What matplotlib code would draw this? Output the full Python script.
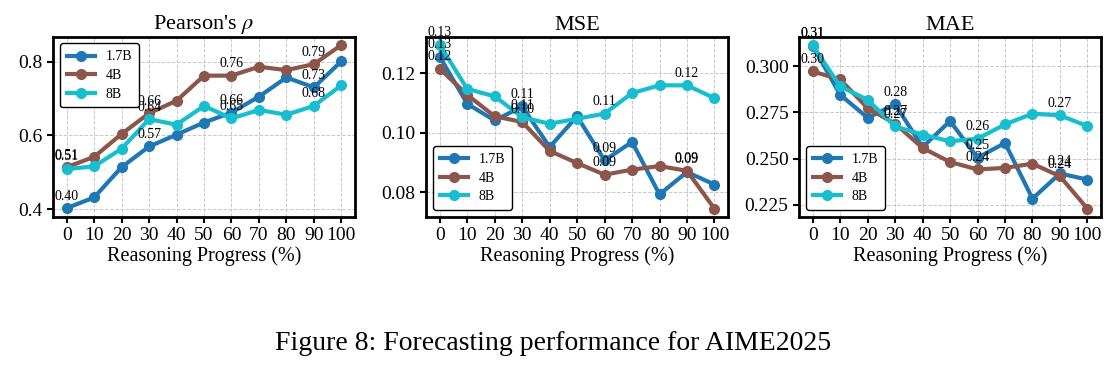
import matplotlib
matplotlib.use("Agg")
import matplotlib.pyplot as plt
import numpy as np

progress = [0, 10, 20, 30, 40, 50, 60, 70, 80, 90, 100]
labels = ['1.7B', '4B', '8B']
colors = ['tab:blue', 'tab:brown', 'tab:cyan']

pearson_17b = [0.403, 0.432, 0.514, 0.570, 0.602, 0.635, 0.662, 0.705, 0.757, 0.730, 0.801]
pearson_4b = [0.514, 0.542, 0.604, 0.660, 0.694, 0.762, 0.762, 0.786, 0.777, 0.793, 0.845]
pearson_8b = [0.509, 0.516, 0.564, 0.644, 0.629, 0.680, 0.646, 0.669, 0.656, 0.680, 0.736]

mse_17b = [0.1255, 0.1097, 0.1041, 0.1088, 0.0952, 0.1055, 0.0907, 0.0969, 0.0793, 0.0868, 0.0826]
mse_4b = [0.1215, 0.1127, 0.1055, 0.1036, 0.0939, 0.0898, 0.0859, 0.0876, 0.0888, 0.0872, 0.0745]
mse_8b = [0.1295, 0.1147, 0.1122, 0.1052, 0.1030, 0.1047, 0.1064, 0.1133, 0.1159, 0.1159, 0.1116]

mae_17b = [0.3110, 0.2845, 0.2721, 0.2793, 0.2563, 0.2703, 0.2505, 0.2585, 0.2284, 0.2420, 0.2387]
mae_4b = [0.2971, 0.2928, 0.2773, 0.2689, 0.2558, 0.2482, 0.2442, 0.2450, 0.2473, 0.2405, 0.2230]
mae_8b = [0.3112, 0.2890, 0.2818, 0.2674, 0.2630, 0.2594, 0.2608, 0.2685, 0.2743, 0.2734, 0.2676]

plt.rcParams['font.family'] = ['Liberation Serif', 'DejaVu Serif']
plt.rcParams['mathtext.fontset'] = 'stix'

fig = plt.figure(figsize=(11.17, 3.65), dpi=100)

panels = [
    (r"Pearson's $\rho$", [pearson_17b, pearson_4b, pearson_8b], [0.4, 0.6, 0.8],
     (0.379, 0.868), 'upper left', '%.1f', 0.0474),
    ('MSE', [mse_17b, mse_4b, mse_8b], [0.08, 0.10, 0.12],
     (0.0717, 0.1323), 'lower left', '%.2f', 0.3814),
    ('MAE', [mae_17b, mae_4b, mae_8b], [0.225, 0.250, 0.275, 0.300],
     (0.2185, 0.316), 'lower left', '%.3f', 0.7153),
]

for title, series, yticks, ylim, loc, fmt, left in panels:
    ax = fig.add_axes([left, 0.4055, 0.2705, 0.4945])
    for vals, label, color in zip(series, labels, colors):
        ax.plot(progress, vals, color=color, linewidth=3, marker='o',
                markersize=7, label=label)
        # value labels every third point
        for i in range(0, len(progress), 3):
            ax.annotate('%.2f' % vals[i], (progress[i], vals[i]),
                        xytext=(0, 4), textcoords='offset points',
                        ha='center', va='bottom', fontsize=10)
    ax.set_title(title, fontsize=16, pad=5)
    ax.set_xlim(-5, 105)
    ax.set_ylim(*ylim)
    ax.set_xticks(progress)
    ax.set_yticks(yticks)
    ax.yaxis.set_major_formatter(matplotlib.ticker.FormatStrFormatter(fmt))
    ax.tick_params(labelsize=14, width=1.5, length=4)
    ax.set_xlabel('Reasoning Progress (%)', fontsize=14.5, labelpad=1)
    ax.grid(True, linestyle='--', linewidth=0.7, color='#c8c8c8')
    for spine in ax.spines.values():
        spine.set_linewidth(2)
    leg = ax.legend(loc=loc, fontsize=10, handlelength=2.0, fancybox=True,
                    framealpha=1, borderpad=0.5, labelspacing=0.4)
    leg.get_frame().set_edgecolor('black')
    leg.get_frame().set_linewidth(1)

fig.text(0.495, 0.06, 'Figure 8: Forecasting performance for AIME2025',
         ha='center', va='center', fontsize=20)

fig.savefig('out.png', dpi=100)
